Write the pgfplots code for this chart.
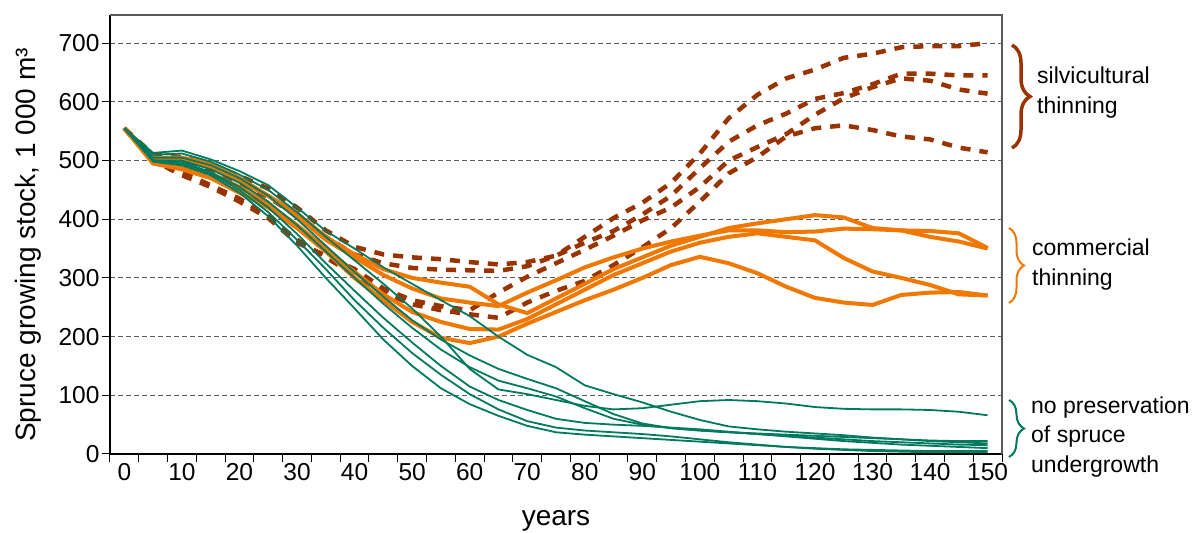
\documentclass[border=0pt]{standalone}
\usepackage{fontspec}
\setmainfont{Liberation Sans}
\usepackage{pgfplots}
\pgfplotsset{compat=1.18}
\usetikzlibrary{decorations.pathreplacing}
\definecolor{cgreen}{RGB}{0,122,94}
\definecolor{corange}{RGB}{240,120,0}
\definecolor{cbrown}{RGB}{153,51,0}
\definecolor{cgrid}{RGB}{95,95,95}
\newcommand{\fs}{\fontsize{23}{30}\selectfont}
\newcommand{\ft}{\fontsize{24.5}{28}\selectfont}
\newcommand{\fl}{\fontsize{28}{32}\selectfont}
\begin{document}
\begin{tikzpicture}[x=1pt,y=1pt]
\begin{axis}[
  at={(110pt,79pt)}, anchor=south west,
  width=892pt, height=439pt, scale only axis,
  xmin=-2.5, xmax=152.5, ymin=0, ymax=748,
  clip=false,
  axis x line*=bottom, axis y line*=left,
  axis line style={-, black, line width=1.3pt},
  xtick={0,10,...,150},
  minor xtick={-2.5,2.5,...,152.5},
  ytick={0,100,...,700},
  tick align=outside,
  major tick length=8pt, minor tick length=8pt,
  major x tick style={draw=none},
  tick style={black, line width=1pt},
  /pgf/number format/assume math mode=true,
  /pgf/number format/1000 sep={},
  tick label style={font=\ft},
  xticklabel style={yshift=2pt},
  yticklabel style={xshift=1pt},
  label style={font=\fl},
  ymajorgrids,
  major grid style={cgrid, line width=1.1pt, dash pattern=on 5pt off 3pt},
  xlabel={years},
  ylabel={Spruce growing stock, 1 000 m³},
  xlabel style={at={(axis description cs:0.5,-0.153)}, anchor=center},
  ylabel style={at={(axis description cs:-0.0919,0.476)}, anchor=center},
  every axis plot/.append style={line join=round},
]
% --- silvicultural thinning (brown dashed)
\addplot[cbrown, line width=4.5pt, dash pattern=on 10pt off 9pt] coordinates {
(0,555)(5,510)(10,506)(15,494)(20,474)(25,452)(30,420)(35,381)(40,353)(45,340)(50,335)(55,332)(60,327)(65,323)(70,327)(75,338)(80,370)(85,402)(90,428)(95,462)(100,512)(105,572)(110,612)(115,640)(120,655)(125,675)(130,682)(135,693)(140,695)(145,695)(150,700)};
\addplot[cbrown, line width=4.5pt, dash pattern=on 10pt off 9pt] coordinates {
(0,555)(5,505)(10,500)(15,485)(20,462)(25,438)(30,405)(35,370)(40,340)(45,325)(50,317)(55,314)(60,313)(65,312)(70,320)(75,338)(80,360)(85,380)(90,408)(95,440)(100,487)(105,532)(110,560)(115,580)(120,605)(125,615)(130,630)(135,648)(140,648)(145,645)(150,645)};
\addplot[cbrown, line width=4.5pt, dash pattern=on 10pt off 9pt] coordinates {
(0,555)(5,500)(10,475)(15,455)(20,430)(25,402)(30,360)(35,338)(40,315)(45,282)(50,262)(55,252)(60,245)(65,275)(70,302)(75,325)(80,348)(85,372)(90,398)(95,420)(100,455)(105,500)(110,523)(115,545)(120,578)(125,606)(130,625)(135,640)(140,636)(145,621)(150,614)};
\addplot[cbrown, line width=4.5pt, dash pattern=on 10pt off 9pt] coordinates {
(0,555)(5,498)(10,480)(15,458)(20,435)(25,405)(30,365)(35,335)(40,305)(45,275)(50,255)(55,245)(60,238)(65,232)(70,258)(75,278)(80,295)(85,322)(90,352)(95,385)(100,430)(105,478)(110,506)(115,541)(120,555)(125,560)(130,552)(135,541)(140,536)(145,522)(150,514)};
% --- commercial thinning (orange)
\addplot[corange, line width=4pt] coordinates {
(0,555)(5,500)(10,503)(15,490)(20,465)(25,440)(30,410)(35,370)(40,340)(45,315)(50,300)(55,292)(60,285)(65,255)(70,240)(75,265)(80,290)(85,315)(90,335)(95,355)(100,370)(105,385)(110,393)(115,400)(120,407)(125,403)(130,385)(135,381)(140,370)(145,362)(150,350)};
\addplot[corange, line width=4pt] coordinates {
(0,555)(5,505)(10,505)(15,495)(20,470)(25,440)(30,405)(35,365)(40,335)(45,305)(50,282)(55,265)(60,258)(65,252)(70,275)(75,296)(80,318)(85,335)(90,350)(95,362)(100,372)(105,381)(110,381)(115,378)(120,379)(125,384)(130,383)(135,381)(140,380)(145,376)(150,351)};
\addplot[corange, line width=4pt] coordinates {
(0,555)(5,495)(10,490)(15,478)(20,455)(25,425)(30,390)(35,350)(40,310)(45,272)(50,242)(55,225)(60,213)(65,212)(70,230)(75,255)(80,280)(85,305)(90,325)(95,345)(100,360)(105,370)(110,376)(115,370)(120,364)(125,334)(130,311)(135,300)(140,288)(145,272)(150,270)};
\addplot[corange, line width=4pt] coordinates {
(0,555)(5,495)(10,485)(15,470)(20,445)(25,420)(30,385)(35,345)(40,300)(45,262)(50,225)(55,198)(60,189)(65,200)(70,222)(75,242)(80,262)(85,280)(90,300)(95,322)(100,336)(105,325)(110,308)(115,285)(120,266)(125,258)(130,254)(135,271)(140,275)(145,276)(150,270)};
% --- no preservation of spruce undergrowth (green)
\addplot[cgreen, line width=1.8pt] coordinates {
(0,555)(5,513)(10,517)(15,502)(20,482)(25,458)(30,420)(35,380)(40,350)(45,318)(50,290)(55,262)(60,235)(65,200)(70,169)(75,148)(80,117)(85,102)(90,88)(95,72)(100,58)(105,47)(110,42)(115,38)(120,35)(125,32)(130,28)(135,25)(140,22)(145,20)(150,18)};
\addplot[cgreen, line width=1.8pt] coordinates {
(0,555)(5,510)(10,512)(15,498)(20,476)(25,450)(30,412)(35,370)(40,330)(45,290)(50,248)(55,200)(60,145)(65,110)(70,102)(75,92)(80,82)(85,76)(90,78)(95,84)(100,90)(105,92)(110,90)(115,86)(120,80)(125,77)(130,76)(135,76)(140,75)(145,72)(150,66)};
\addplot[cgreen, line width=1.8pt] coordinates {
(0,555)(5,505)(10,505)(15,492)(20,470)(25,440)(30,400)(35,355)(40,310)(45,268)(50,228)(55,195)(60,168)(65,145)(70,128)(75,112)(80,90)(85,68)(90,52)(95,44)(100,40)(105,37)(110,35)(115,33)(120,31)(125,29)(130,27)(135,25)(140,23)(145,22)(150,22)};
\addplot[cgreen, line width=1.8pt] coordinates {
(0,555)(5,500)(10,500)(15,485)(20,462)(25,430)(30,390)(35,345)(40,300)(45,256)(50,215)(55,178)(60,148)(65,125)(70,112)(75,98)(80,78)(85,60)(90,50)(95,44)(100,40)(105,37)(110,34)(115,31)(120,28)(125,25)(130,22)(135,20)(140,18)(145,16)(150,15)};
\addplot[cgreen, line width=1.8pt] coordinates {
(0,555)(5,500)(10,498)(15,480)(20,455)(25,420)(30,375)(35,325)(40,278)(45,232)(50,190)(55,150)(60,115)(65,92)(70,75)(75,60)(80,53)(85,50)(90,48)(95,45)(100,42)(105,38)(110,34)(115,30)(120,26)(125,22)(130,19)(135,16)(140,14)(145,12)(150,10)};
\addplot[cgreen, line width=1.8pt] coordinates {
(0,555)(5,500)(10,495)(15,478)(20,450)(25,412)(30,365)(35,315)(40,262)(45,215)(50,172)(55,135)(60,102)(65,76)(70,56)(75,45)(80,40)(85,37)(90,34)(95,30)(100,25)(105,20)(110,16)(115,12)(120,10)(125,8)(130,7)(135,6)(140,5)(145,5)(150,5)};
\addplot[cgreen, line width=1.8pt] coordinates {
(0,555)(5,498)(10,492)(15,475)(20,445)(25,405)(30,355)(35,300)(40,248)(45,195)(50,150)(55,112)(60,85)(65,65)(70,48)(75,37)(80,33)(85,30)(90,27)(95,24)(100,21)(105,18)(110,15)(115,12)(120,9)(125,7)(130,5)(135,4)(140,3)(145,3)(150,3)};
\end{axis}
% top and right frame lines
\draw[gray!70!black, line width=1.2pt] (110pt,518pt) -- (1002pt,518pt) -- (1002pt,79pt);
% braces and annotations
\draw[cbrown, line width=3.5pt, decorate, decoration={brace, amplitude=18pt}] (1012pt,488pt) -- (1012pt,385pt);
\node[anchor=west, align=left, font=\fs, inner sep=0pt] at (1037pt,440pt) {silvicultural\\thinning};
\draw[corange, line width=2pt, decorate, decoration={brace, amplitude=15pt}] (1009pt,305pt) -- (1009pt,230pt);
\node[anchor=west, align=left, font=\fs, inner sep=0pt] at (1032pt,268pt) {commercial\\thinning};
\draw[cgreen, line width=2pt, decorate, decoration={brace, amplitude=15pt}] (1009pt,133pt) -- (1009pt,76pt);
\node[anchor=west, align=left, font=\fontsize{23}{29.5}\selectfont, inner sep=0pt] at (1031pt,96pt) {no preservation\\of spruce\\undergrowth};
\pgfresetboundingbox
\path (0pt,0pt) rectangle (1195pt,533pt);
\end{tikzpicture}
\end{document}
